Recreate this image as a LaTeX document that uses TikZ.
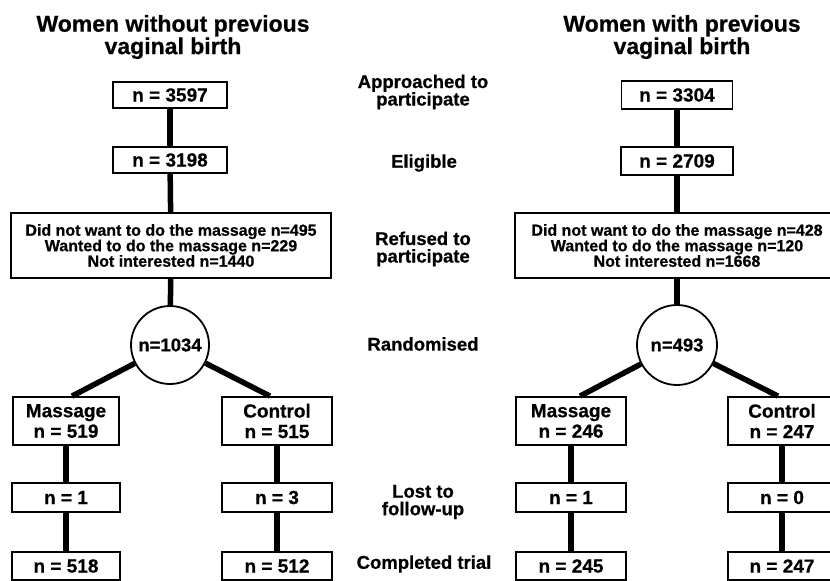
\documentclass[tikz,border=0pt]{standalone}
\usepackage{fontspec}
\setmainfont{Liberation Sans}[BoldFeatures={FakeBold=0.6}]
\begin{document}
\begin{tikzpicture}[x=1pt,y=-1pt,
  box/.style={draw, line width=1.8pt, fill=white, inner sep=0pt, align=center,
    font=\bfseries\fontsize{19}{20.5}\selectfont},
  bigbox/.style={box, font=\bfseries\fontsize{16}{15.5}\selectfont},
  circ/.style={draw, circle, line width=1.8pt, fill=white, inner sep=0pt,
    font=\bfseries\fontsize{18.5}{20}\selectfont},
  conn/.style={line width=5.5pt},
  lab/.style={align=center, font=\bfseries\fontsize{18.5}{17.5}\selectfont},
  ttl/.style={align=center, font=\bfseries\fontsize{23}{20.5}\selectfont}]
\path[use as bounding box, clip] (0,0) rectangle (830,581);
\fill[white] (0,0) rectangle (830,581);

% titles
\node[ttl] (t1) at (173,37) {Women without previous\\vaginal birth};
\node[ttl] (t2) at (682,37) {Women with previous\\vaginal birth};

% middle labels
\node[lab] (s1) at (423,92) {Approached to\\participate};
\node[lab] (s2) at (424,163) {Eligible};
\node[lab] (s3) at (423,249) {Refused to\\participate};
\node[lab] (s4) at (423,344) {Randomised};
\node[lab] (s5) at (423,502) {Lost to\\follow-up};
\node[lab] (s6) at (424,564) {Completed trial};

% left column
\node[box, minimum width=114pt, minimum height=26pt] (a1) at (170,95) {n = 3597};
\node[box, minimum width=114pt, minimum height=26pt] (e1) at (170,160) {n = 3198};
\node[bigbox, minimum width=320pt, minimum height=65pt] (r1) at (171,245.5)
  {Did not want to do the massage n=495\\Wanted to do the massage n=229\\Not interested n=1440};
\node[circ, minimum size=78pt] (c1) at (170,345) {n=1034};
\node[box, minimum width=106pt, minimum height=48pt] (m1) at (66,421) {Massage\\n = 519};
\node[box, minimum width=110pt, minimum height=48pt] (k1) at (277,421) {Control\\n = 515};
\node[box, minimum width=108pt, minimum height=29pt] (l1) at (66,497.5) {n = 1};
\node[box, minimum width=110pt, minimum height=29pt] (l2) at (277,497.5) {n = 3};
\node[box, minimum width=108pt, minimum height=28pt] (f1) at (66,566) {n = 518};
\node[box, minimum width=110pt, minimum height=28pt] (f2) at (277,566) {n = 512};

% right column
\node[box, minimum width=111pt, minimum height=28pt] (a2) at (677,95) {n = 3304};
\node[box, minimum width=112pt, minimum height=28pt] (e2) at (677,161) {n = 2709};
\node[bigbox, minimum width=324pt, minimum height=65pt] (r2) at (677,245.5)
  {Did not want to do the massage n=428\\Wanted to do the massage n=120\\Not interested n=1668};
\node[circ, minimum size=80pt] (c2) at (677,345) {n=493};
\node[box, minimum width=110pt, minimum height=48pt] (m2) at (571,421) {Massage\\n = 246};
\node[box, minimum width=108pt, minimum height=48pt] (k2) at (782,421) {Control\\n = 247};
\node[box, minimum width=110pt, minimum height=29pt] (n2) at (571,497.5) {n = 1};
\node[box, minimum width=108pt, minimum height=29pt] (o2) at (782,497.5) {n = 0};
\node[box, minimum width=110pt, minimum height=28pt] (g2) at (571,566) {n = 245};
\node[box, minimum width=108pt, minimum height=28pt] (h2) at (782,566) {n = 247};

% connectors left
\draw[conn] (a1) -- (e1);
\draw[conn] (e1) -- (r1);
\draw[conn] (r1) -- (c1);
\draw[conn] (c1) -- ([xshift=6pt]m1.north);
\draw[conn] (c1) -- ([xshift=-7pt]k1.north);
\draw[conn] (m1) -- (l1);
\draw[conn] (l1) -- (f1);
\draw[conn] (k1) -- (l2);
\draw[conn] (l2) -- (f2);

% connectors right
\draw[conn] (a2) -- (e2);
\draw[conn] (e2) -- (r2);
\draw[conn] (r2) -- (c2);
\draw[conn] (c2) -- ([xshift=9pt]m2.north);
\draw[conn] (c2) -- ([xshift=-4pt]k2.north);
\draw[conn] (m2) -- (n2);
\draw[conn] (n2) -- (g2);
\draw[conn] (k2) -- (o2);
\draw[conn] (o2) -- (h2);
\end{tikzpicture}
\end{document}
